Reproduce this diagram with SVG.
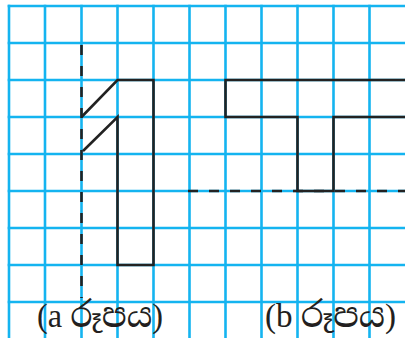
<svg xmlns="http://www.w3.org/2000/svg" width="405" height="338" viewBox="0 0 405 338">
<style>
.g{stroke:#14b4f0;stroke-width:2.6;fill:none}
.k{stroke:#222;stroke-width:2.6;fill:none;stroke-linejoin:miter;stroke-linecap:butt}
.d{stroke:#222;stroke-width:2.6;fill:none;stroke-dasharray:10 11}
.t{font-family:"Liberation Serif","Noto Serif Sinhala","Noto Sans Sinhala","Iskoola Pota",serif;font-size:34px;fill:#231f20}
</style>
<rect width="405" height="338" fill="#fff"/>
<g id="grid">
<path class="g" d="M9 4.7V338M45 4.7V338M81.5 4.7V338M117.5 4.7V338M153.5 4.7V338M189.5 4.7V338M225.5 4.7V338M261.5 4.7V338M297.5 4.7V338M333.5 4.7V338M369.5 4.7V338"/>
<path class="g" d="M7.7 6H405M7.7 43H405M7.7 80H405M7.7 117H405M7.7 154H405M7.7 191H405M7.7 228H405M7.7 265H405M7.7 302H405"/>
</g>
<g id="connectors">
<path id="axis-a" class="d" d="M81.5 45V298"/>
<path id="axis-b" class="d" d="M188 191H405"/>
</g>
<g id="figure-a">
<path class="k" d="M81.5 117L117.5 80H153.5V265H117.5V117L83 151"/>
</g>
<g id="figure-b">
<path class="k" d="M405 80H225.5V117H297.5V191H333.5V117H405"/>
</g>
<g id="label-a"><text class="t" x="37" y="327" textLength="126" lengthAdjust="spacingAndGlyphs">(a රූපය)</text></g>
<g id="label-b"><text class="t" x="265" y="327" textLength="131" lengthAdjust="spacingAndGlyphs">(b රූපය)</text></g>
</svg>
